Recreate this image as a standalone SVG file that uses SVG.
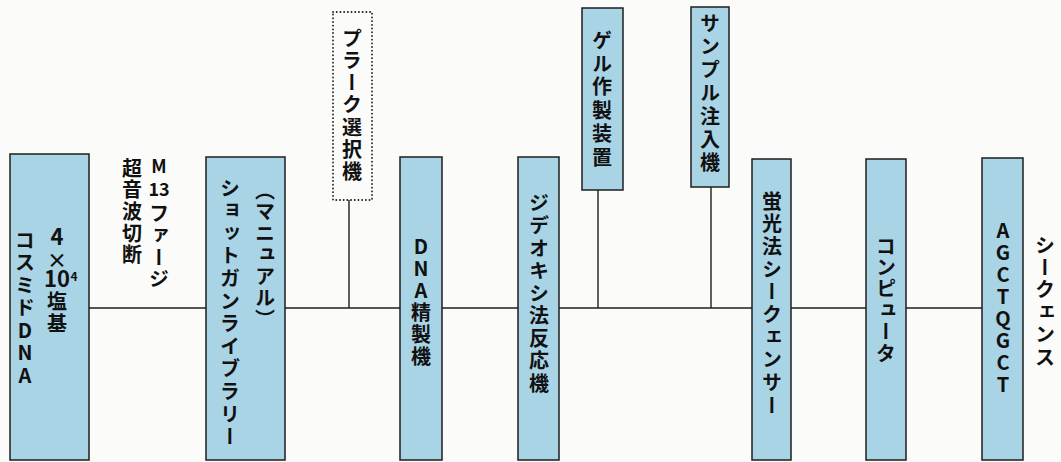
<svg xmlns="http://www.w3.org/2000/svg" width="1061" height="462" viewBox="0 0 1061 462">
<style>
.box{fill:#a9d4e6;stroke:#1e1e1e;stroke-width:1.5}
.dot{fill:#fbfbf9;stroke:#1e1e1e;stroke-width:1.8;stroke-dasharray:0.1 3.6;stroke-linecap:round}
.ln{stroke:#1e1e1e;stroke-width:1.4;fill:none}
.v{font-family:"Noto Sans CJK JP","Noto Sans CJK SC",sans-serif;font-weight:bold;font-size:20px;fill:#111;writing-mode:vertical-rl;letter-spacing:2.5px}
.vu{text-orientation:upright}
.h{font-family:"Noto Sans CJK JP","Noto Sans CJK SC",sans-serif;font-weight:bold;font-size:20px;fill:#111;text-anchor:middle;font-feature-settings:"vert" 1}
.d{font-size:22px}
.m{font-size:18px}
.s{font-size:12px}
</style>
<rect width="1061" height="462" fill="#fbfbf9"/>
<g id="connectors">
<line class="ln" x1="89" y1="308" x2="206" y2="308"/>
<line class="ln" x1="285" y1="308" x2="400" y2="308"/>
<line class="ln" x1="442" y1="308" x2="518" y2="308"/>
<line class="ln" x1="559" y1="308" x2="752" y2="308"/>
<line class="ln" x1="791" y1="308" x2="866" y2="308"/>
<line class="ln" x1="906" y1="308" x2="982" y2="308"/>
<line class="ln" x1="349" y1="200" x2="349" y2="308"/>
<line class="ln" x1="598" y1="190" x2="598" y2="308"/>
<line class="ln" x1="711" y1="187" x2="711" y2="308"/>
</g>
<g id="cosmid">
<rect class="box" x="10" y="154" width="79" height="306"/>
<text class="h"><tspan x="57" y="245" class="d">4</tspan><tspan x="57" y="268">×</tspan><tspan x="57" y="287" class="d">10</tspan><tspan x="74" y="281" class="s">4</tspan><tspan x="57" y="309">塩</tspan><tspan x="57" y="331">基</tspan></text>
<text class="v vu" x="25" y="230">コスミドDNA</text>
</g>
<g id="m13">
<text class="h"><tspan x="159" y="173" class="m">M</tspan><tspan x="159" y="196" class="m">13</tspan><tspan x="159" y="221">フ</tspan><tspan x="159" y="243">ァ</tspan><tspan x="159" y="265">ー</tspan><tspan x="159" y="287">ジ</tspan></text>
<text class="v" x="132" y="158" style="letter-spacing:1.7px">超音波切断</text>
</g>
<g id="shotgun">
<rect class="box" x="206" y="157" width="79" height="303"/>
<text class="v" x="265" y="180" style="letter-spacing:1.5px">（マニュアル）</text>
<text class="v" x="230" y="178" style="letter-spacing:2.6px">ショットガンライブラリー</text>
</g>
<g id="plaque">
<rect class="dot" x="333" y="12" width="39" height="188"/>
<text class="v" x="352" y="28" style="letter-spacing:2.3px">プラーク選択機</text>
</g>
<g id="dna-prep">
<rect class="box" x="400" y="157" width="42" height="303"/>
<text class="v vu" x="421" y="236" style="letter-spacing:2px">DNA精製機</text>
</g>
<g id="dideoxy">
<rect class="box" x="518" y="157" width="41" height="303"/>
<text class="v" x="539" y="193">ジデオキシ法反応機</text>
</g>
<g id="gel">
<rect class="box" x="582" y="8" width="41" height="182"/>
<text class="v" x="602" y="30" style="letter-spacing:3.4px">ゲル作製装置</text>
</g>
<g id="sample">
<rect class="box" x="691" y="7" width="38" height="180"/>
<text class="v" x="710" y="13" style="letter-spacing:3.3px">サンプル注入機</text>
</g>
<g id="sequencer">
<rect class="box" x="752" y="159" width="39" height="301"/>
<text class="v" x="772" y="191" style="letter-spacing:2.7px">蛍光法シークェンサー</text>
</g>
<g id="computer">
<rect class="box" x="866" y="159" width="40" height="301"/>
<text class="v" x="886" y="236" style="letter-spacing:1.4px">コンピュータ</text>
</g>
<g id="result">
<rect class="box" x="982" y="158" width="41" height="302"/>
<text class="v vu" x="1003" y="220" style="letter-spacing:2px">AGCTQGCT</text>
</g>
<g id="sequence">
<text class="v" x="1045" y="235" style="letter-spacing:2.4px">シークェンス</text>
</g>
</svg>
